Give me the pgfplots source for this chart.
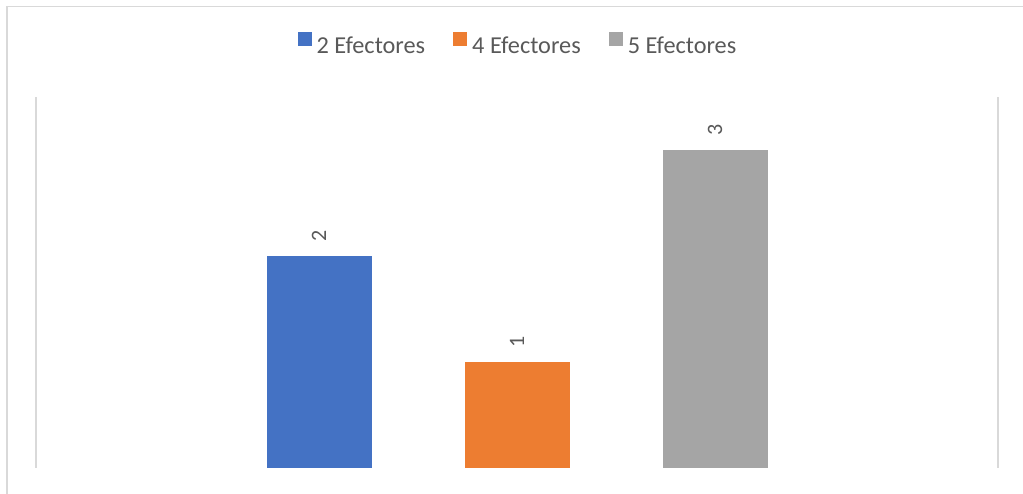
\documentclass[border=0pt]{standalone}
\usepackage{pgfplots}
\pgfplotsset{compat=1.18}
\usepackage{fontspec}
\setmainfont{Carlito}
\definecolor{cBlue}{HTML}{4472C4}
\definecolor{cOrange}{HTML}{ED7D31}
\definecolor{cGray}{HTML}{A5A5A5}
\definecolor{cText}{HTML}{595959}
\definecolor{cGrid}{HTML}{D9D9D9}
\begin{document}
\begin{tikzpicture}
\path[use as bounding box] (-36pt,-26pt) rectangle (987pt,468pt);
\draw[cGrid, line width=1.5pt] (-29pt,-30pt) -- (-29pt,461.5pt) -- (990pt,461.5pt);
\begin{axis}[
  at={(0pt,0pt)}, anchor=south west,
  scale only axis,
  width=962pt, height=371pt,
  xmin=-2.4293, xmax=2.4293,
  ymin=0, ymax=3.5,
  /pgf/number format/assume math mode=true,
  axis line style={draw=none},
  xtick={-2.4293,2.4293}, xticklabels={},
  ytick=\empty,
  major tick length=0pt,
  xmajorgrids,
  grid style={cGrid, line width=1.5pt},
  ybar, bar width=105pt, bar shift=0pt,
  nodes near coords,
  every node near coord/.append style={rotate=90, anchor=west, inner ysep=0pt, inner xsep=14pt, font=\fontsize{22}{26}\selectfont, text=cText},
  legend columns=3,
  legend style={draw=none, fill=none, at={(axis description cs:0.5,1.145)}, anchor=center,
    font=\fontsize{24.3}{28}\selectfont, text=cText,
    nodes={inner sep=0pt},
    /tikz/every odd column/.append style={column sep=5pt},
    /tikz/every even column/.append style={column sep=28pt}},
  legend image code/.code={\fill[#1] (0pt,0pt) rectangle (14pt,14pt);},
]
\addplot[fill=cBlue, draw=none] coordinates {(-1,2)};
\addplot[fill=cOrange, draw=none] coordinates {(0,1)};
\addplot[fill=cGray, draw=none] coordinates {(1,3)};
\legend{2 Efectores, 4 Efectores, 5 Efectores}
\end{axis}
\end{tikzpicture}
\end{document}
